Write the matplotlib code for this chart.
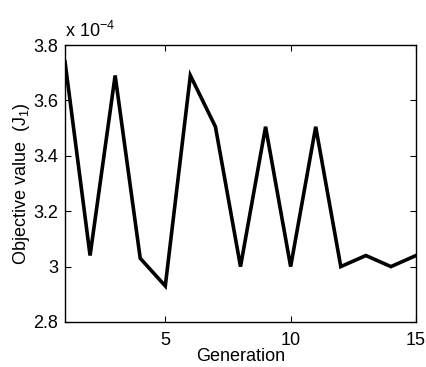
import numpy as np
import matplotlib
matplotlib.use('Agg')
import matplotlib.pyplot as plt
from matplotlib.transforms import offset_copy

plt.rcParams['font.family'] = ['Liberation Sans', 'DejaVu Sans']
plt.rcParams['mathtext.fontset'] = 'custom'
plt.rcParams['mathtext.rm'] = 'Liberation Sans'
plt.rcParams['mathtext.it'] = 'Liberation Sans'

# data (objective value per generation)
generation = [1, 2, 3, 4, 5, 6, 7, 8, 9, 10, 11, 12, 13, 14, 15]
objective = [3.74e-4, 3.04e-4, 3.69e-4, 3.03e-4, 2.93e-4, 3.69e-4, 3.505e-4, 3.00e-4,
             3.505e-4, 3.00e-4, 3.505e-4, 3.00e-4, 3.04e-4, 3.00e-4, 3.04e-4]
scale = 1e-4
x_ticks = [5, 10, 15]
y_ticks = [2.8, 3.0, 3.2, 3.4, 3.6, 3.8]
y_ticklabels = ['2.8', '3', '3.2', '3.4', '3.6', '3.8']

fs = 13

fig = plt.figure(figsize=(4.27, 3.67), dpi=100)
ax = fig.add_axes([65 / 427, 1 - 322 / 367, (416 - 65) / 427, (322 - 45) / 367])

ax.plot(generation, np.array(objective) / scale, color='black', linewidth=2.6,
        solid_joinstyle='miter')

ax.set_xlim(1, 15)
ax.set_ylim(2.8, 3.8)
ax.set_xticks(x_ticks)
ax.set_yticks(y_ticks)
ax.set_yticklabels(y_ticklabels)
ax.tick_params(direction='in', top=True, right=True, labelsize=fs, length=4,
               width=0.8)
ax.tick_params(axis='x', pad=7.5)
ax.tick_params(axis='y', pad=5)
for s in ax.spines.values():
    s.set_linewidth(1.0)

ax.set_xlabel('Generation', fontsize=fs, labelpad=-1)
ax.set_ylabel('Objective value  (J$_1$)', fontsize=fs, labelpad=1)

# exponent label in the upper-left corner, MATLAB style
tr = offset_copy(ax.transAxes, fig=fig, x=0, y=8, units='dots')
ax.text(0.0, 1.0, 'x 10$^{-4}$', transform=tr, fontsize=fs,
        ha='left', va='baseline')

fig.savefig('out.png', dpi=100)
